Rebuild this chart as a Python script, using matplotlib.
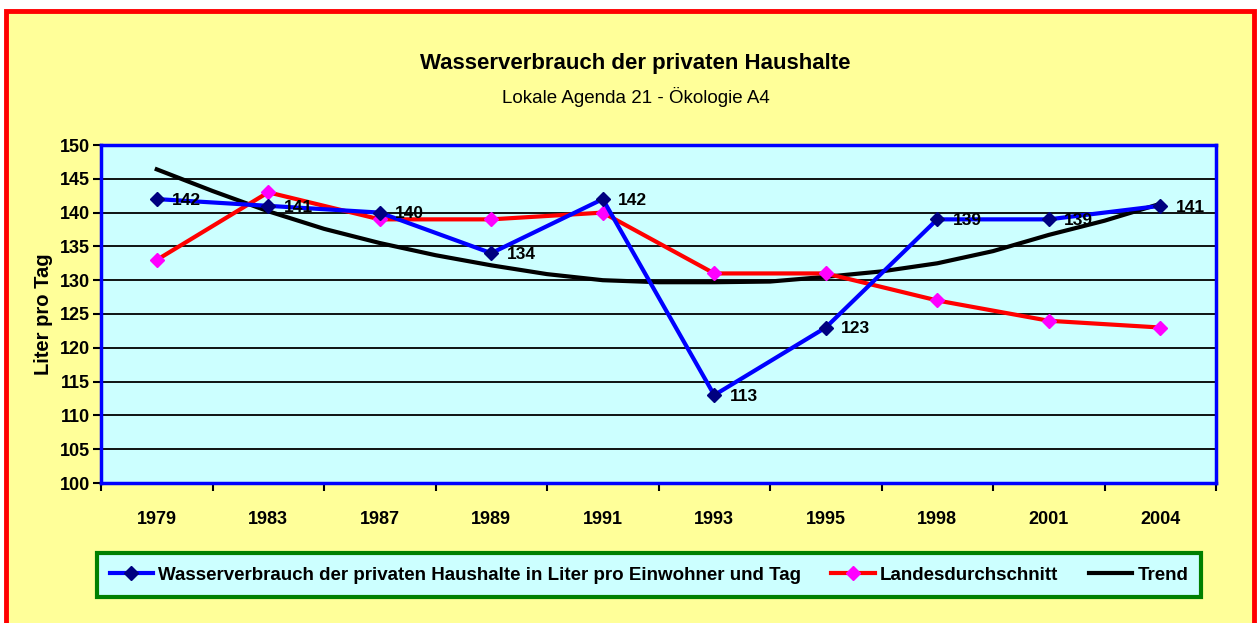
import matplotlib
matplotlib.use("Agg")
import matplotlib.pyplot as plt
from matplotlib.patches import Rectangle
from matplotlib.ticker import FixedLocator, NullFormatter

plt.rcParams['font.family'] = ['Liberation Sans', 'DejaVu Sans']

years = ['1979', '1983', '1987', '1989', '1991', '1993', '1995', '1998', '2001', '2004']
verbrauch = [142, 141, 140, 134, 142, 113, 123, 139, 139, 141]
landes = [133, 143, 139, 139, 140, 131, 131, 127, 124, 123]
# trend read at each category and half-way between categories
trend_pos = [0, 0.5, 1, 1.5, 2, 2.5, 3, 3.5, 4, 4.5, 5, 5.5, 6, 6.5, 7, 7.5, 8, 8.5, 9]
trend_val = [146.4, 143.2, 140.2, 137.6, 135.5, 133.7, 132.2, 130.9, 130.0, 129.7,
             129.7, 129.8, 130.5, 131.3, 132.5, 134.3, 136.7, 138.8, 141.3]
yticks = list(range(100, 151, 5))

W, H = 1257, 623
fig = plt.figure(figsize=(W / 100, H / 100), dpi=100)
fig.patch.set_facecolor('white')
bg = Rectangle((6 / W, -0.02), (W - 9) / W, 1.02 - 11 / H,
               transform=fig.transFigure, facecolor='#FFFF99',
               edgecolor='#FF0000', linewidth=3.5, zorder=-10)
fig.patches.append(bg)

ax = fig.add_axes([101 / W, 1 - 483 / H, (1216 - 101) / W, (483 - 145) / H])
ax.set_zorder(1)
ax.set_facecolor('#CCFFFF')
x = list(range(len(years)))

ax.plot(trend_pos, trend_val, color='black', lw=3, zorder=3, label='Trend')
ax.plot(x, landes, color='#FF0000', lw=3, marker='D', ms=7, mfc='#FF00FF',
        mec='#FF00FF', zorder=4, label='Landesdurchschnitt')
ax.plot(x, verbrauch, color='#0000FF', lw=3, marker='D', ms=7, mfc='#000080',
        mec='#000080', zorder=5,
        label='Wasserverbrauch der privaten Haushalte in Liter pro Einwohner und Tag')

for xi, v in zip(x, verbrauch):
    ax.annotate(str(v), (xi, v), xytext=(11, -1), textcoords='offset points',
                fontsize=12.5, fontweight='bold', va='center', ha='left', zorder=6)

ax.set_xlim(-0.5, 9.5)
ax.set_ylim(100, 150)
ax.set_yticks(yticks)
ax.set_yticklabels([str(t) for t in yticks], fontsize=13, fontweight='bold')
ax.yaxis.grid(True, color='black', lw=1.3)
ax.set_axisbelow(True)

ax.xaxis.set_major_locator(FixedLocator([i - 0.5 for i in range(len(years) + 1)]))
ax.xaxis.set_major_formatter(NullFormatter())
ax.xaxis.set_minor_locator(FixedLocator(x))
ax.set_xticklabels(years, minor=True, fontsize=13, fontweight='bold')
ax.tick_params(axis='x', which='minor', length=0, pad=20)
ax.tick_params(axis='x', which='major', length=6, width=1.5, direction='out')
ax.tick_params(axis='y', length=6, width=1.5, direction='out', pad=2)

for s in ax.spines.values():
    s.set_color('#0000FF')
    s.set_linewidth(2.5)

ax.set_ylabel('Liter pro Tag', fontsize=14.5, fontweight='bold', labelpad=5)

fig.text(635 / W, 1 - 64 / H, 'Wasserverbrauch der privaten Haushalte',
         ha='center', va='center', fontsize=16, fontweight='bold')
fig.text(636 / W, 1 - 97 / H, 'Lokale Agenda 21 - Ökologie A4',
         ha='center', va='center', fontsize=13.5)

handles, labels = ax.get_legend_handles_labels()
order = [2, 1, 0]
leg = fig.legend([handles[i] for i in order], [labels[i] for i in order],
                 loc='center', bbox_to_anchor=(649 / W, 1 - 575 / H), ncol=3,
                 prop={'size': 13.5, 'weight': 'bold'}, frameon=True, fancybox=False,
                 handlelength=2.3, handletextpad=0.3, columnspacing=1.6,
                 borderpad=0.7, borderaxespad=0)
leg.get_frame().set_facecolor('#CCFFFF')
leg.get_frame().set_edgecolor('#008000')
leg.get_frame().set_linewidth(3)
leg.get_frame().set_alpha(1)

fig.savefig('out.png', dpi=100, facecolor=fig.get_facecolor())
